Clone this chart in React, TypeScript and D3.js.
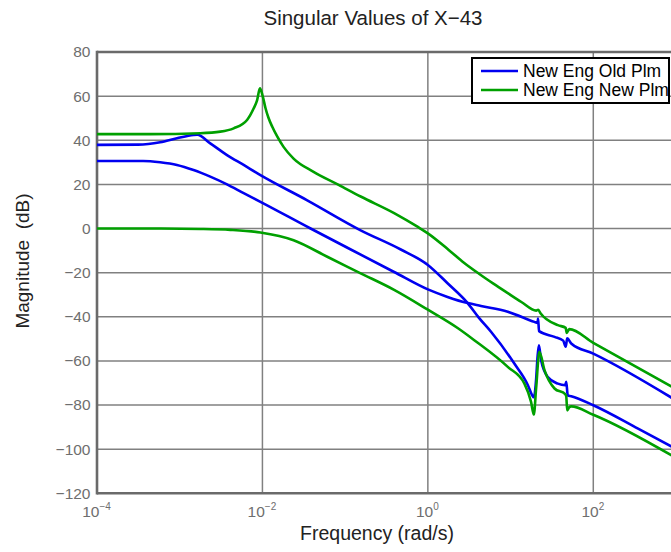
import React from "react";
import * as d3 from "d3";

// Singular values (dB) versus frequency (rad/s), one pair of curves per plant
type Pt = [number, number];

const oldPlmSigma1: Pt[] = [
  [1e-4, 37.9], [3.14e-4, 38.0], [5.8e-4, 39.1], [9.25e-4, 40.9], [1.47e-3, 42.4],
  [1.63e-3, 42.5], [2.34e-3, 38.6], [3.73e-3, 33.3], [5.93e-3, 28.8], [9.46e-3, 24.2],
  [3.48e-2, 12.8], [0.154, -0.8], [0.471, -9.5], [1.0, -16.5], [1.73, -24.8],
  [3.03, -33.8], [4.15, -40.5], [5.8, -46.8], [11.1, -61.2], [16.2, -71.0],
  [18.2, -75.5], [19.1, -76.5], [20.4, -68.0], [21.2, -58.0], [22.0, -52.9],
  [23.4, -59.7], [28.2, -67.3], [37.3, -70.3], [45.8, -71.0], [47.1, -69.5],
  [49.1, -75.6], [54.1, -76.0], [100, -80.1], [348, -90.7], [1000, -99.9],
];

const oldPlmSigma2: Pt[] = [
  [1e-4, 30.6], [3.61e-4, 30.6], [5.8e-4, 30.0], [9.25e-4, 28.8], [1.47e-3, 26.5],
  [2.34e-3, 23.5], [3.73e-3, 20.0], [5.93e-3, 16.0], [9.46e-3, 12.1], [3.82e-2, 0],
  [0.117, -9.5], [0.391, -19.7], [1.0, -27.6], [1.73, -31.0], [3.03, -33.8],
  [4.39, -35.1], [9.25, -37.7], [19.4, -42.3], [21.2, -42.8], [21.5, -40.8],
  [22.1, -46.5], [34.0, -49.1], [43.3, -50.8], [46.4, -53.6], [48.4, -49.8],
  [54.1, -52.1], [100, -56.7], [1000, -77.9],
];

const newPlmSigma1: Pt[] = [
  [1e-4, 42.8], [4.39e-4, 42.8], [1.77e-3, 43.2], [3.1e-3, 43.9], [4.49e-3, 45.4],
  [6.52e-3, 49.2], [7.85e-3, 54.5], [8.63e-3, 58.2], [9.33e-3, 63.5], [1.0e-2, 60.5],
  [1.09e-2, 54.5], [1.18e-2, 50.3], [1.32e-2, 46.0], [1.52e-2, 41.5], [1.8e-2, 37.0],
  [2.38e-2, 31.7], [4.15e-2, 25.7], [8.34e-2, 19.8], [0.154, 14.5], [0.391, 7.0],
  [0.757, 0.7], [1.0, -2.2], [1.8, -9.8], [2.73, -15.5], [4.15, -20.5], [6.2, -25.0],
  [9.25, -29.3], [13.5, -33.3], [20.4, -37.2], [21.6, -36.8], [23.0, -38.4],
  [37.3, -43.8], [46.4, -45.0], [47.7, -47.3], [51.2, -45.6], [100, -51.8], [1000, -72.7],
];

const newPlmSigma2: Pt[] = [
  [1e-4, 0], [4.39e-4, 0], [1.77e-3, -0.2], [4.09e-3, -0.6], [9.46e-3, -1.8],
  [2.38e-2, -5.3], [6.08e-2, -12.8], [0.154, -20.3], [0.391, -27.8], [1.0, -36.8],
  [2.29, -45.1], [3.64, -50.6], [9.25, -62.7], [14.7, -70.3], [17.7, -78.6],
  [19.1, -84.3], [20.4, -72.0], [22.3, -55.9], [25.7, -64.2], [34.0, -72.5],
  [45.8, -75.1], [47.1, -76.0], [48.4, -82.4], [51.2, -81.0], [54.1, -80.6],
  [100, -84.4], [1000, -104.0],
];

const seriesNames = ["New Eng Old Plm", "New Eng New Plm"];
const seriesColors = ["#0000f0", "#00a000"];

const xTicks = [1e-4, 1e-2, 1e0, 1e2];
const xTickExponents = ["\u22124", "\u22122", "0", "2"];
const yTicks = [80, 60, 40, 20, 0, -20, -40, -60, -80, -100, -120];

const W = 671;
const H = 552;
const plot = { left: 97, top: 52, right: 676, bottom: 493.3 };
const FONT = "'Liberation Sans', Arial, Helvetica, sans-serif";
const GRID = "#808080";
const AXIS = "#6a6a6a";
const TICK_TEXT = "#6e6e6e";

export default function App() {
  const x = d3.scaleLog().domain([1e-4, 1e3]).range([plot.left, plot.right]);
  const y = d3.scaleLinear().domain([-120, 80]).range([plot.bottom, plot.top]);
  const line = d3
    .line<Pt>()
    .x((d) => x(d[0]))
    .y((d) => y(d[1]))
    .curve(d3.curveMonotoneX);

  const curves = [
    { d: oldPlmSigma1, c: seriesColors[0] },
    { d: oldPlmSigma2, c: seriesColors[0] },
    { d: newPlmSigma1, c: seriesColors[1] },
    { d: newPlmSigma2, c: seriesColors[1] },
  ];

  const fmt = (v: number) => (v < 0 ? "\u2212" + Math.abs(v) : String(v));

  return (
    <svg width={W} height={H} style={{ position: "absolute", left: 0, top: 0, background: "#fff" }}>
      <defs>
        <clipPath id="plotArea">
          <rect x={plot.left} y={plot.top} width={plot.right - plot.left} height={plot.bottom - plot.top} />
        </clipPath>
      </defs>
      <rect x={0} y={0} width={W} height={H} fill="#fff" />

      {/* grid */}
      {yTicks.slice(1, -1).map((t) => (
        <line key={"gy" + t} x1={plot.left} x2={plot.right} y1={y(t)} y2={y(t)} stroke={GRID} strokeWidth={1.5} />
      ))}
      {xTicks.slice(1).map((t) => (
        <line key={"gx" + t} x1={x(t)} x2={x(t)} y1={plot.top} y2={plot.bottom} stroke={GRID} strokeWidth={1.5} />
      ))}

      {/* axes frame */}
      <line x1={plot.left} x2={plot.right} y1={plot.top} y2={plot.top} stroke={AXIS} strokeWidth={2.6} />
      <line x1={plot.left} x2={plot.right} y1={plot.bottom} y2={plot.bottom} stroke={AXIS} strokeWidth={2.6} />
      <line x1={plot.left} x2={plot.left} y1={plot.top - 1.3} y2={plot.bottom + 1.3} stroke={AXIS} strokeWidth={2.6} />

      {/* curves */}
      <g clipPath="url(#plotArea)">
        {curves.map((s, i) => (
          <path key={i} d={line(s.d) || ""} fill="none" stroke={s.c} strokeWidth={2.6} strokeLinejoin="round" />
        ))}
      </g>

      {/* y tick labels */}
      {yTicks.map((t) => (
        <text key={"ty" + t} x={90.5} y={y(t)} dy="0.35em" textAnchor="end" fontFamily={FONT} fontSize={15.5} fill={TICK_TEXT}>
          {fmt(t)}
        </text>
      ))}

      {/* x tick labels */}
      {xTicks.map((t, i) => (
        <text key={"tx" + t} x={x(t) - 0.5} y={517} textAnchor="middle" fontFamily={FONT} fontSize={15.5} fill={TICK_TEXT}>
          <tspan>10</tspan>
          <tspan dy={-7} fontSize={10}>{xTickExponents[i]}</tspan>
        </text>
      ))}

      {/* titles */}
      <text x={373} y={25} textAnchor="middle" fontFamily={FONT} fontSize={20.5} fill="#222">
        Singular Values of X{"\u2212"}43
      </text>
      <text x={377} y={540} textAnchor="middle" fontFamily={FONT} fontSize={19.5} fill="#222">
        Frequency (rad/s)
      </text>
      <text
        transform="translate(29,261) rotate(-90)"
        textAnchor="middle"
        fontFamily={FONT}
        fontSize={19}
        fill="#222"
        style={{ whiteSpace: "pre" }}
      >
        {"Magnitude  (dB)"}
      </text>

      {/* legend */}
      <g>
        <rect x={472} y={58} width={197} height={45} fill="#fff" stroke="#000" strokeWidth={2} />
        {seriesNames.map((n, i) => (
          <g key={n}>
            <line x1={481} x2={518} y1={71 + i * 19} y2={71 + i * 19} stroke={seriesColors[i]} strokeWidth={2.6} />
            <text x={523} y={71 + i * 19} dy="0.36em" fontFamily={FONT} fontSize={17.5} fill="#000">
              {n}
            </text>
          </g>
        ))}
      </g>
    </svg>
  );
}
